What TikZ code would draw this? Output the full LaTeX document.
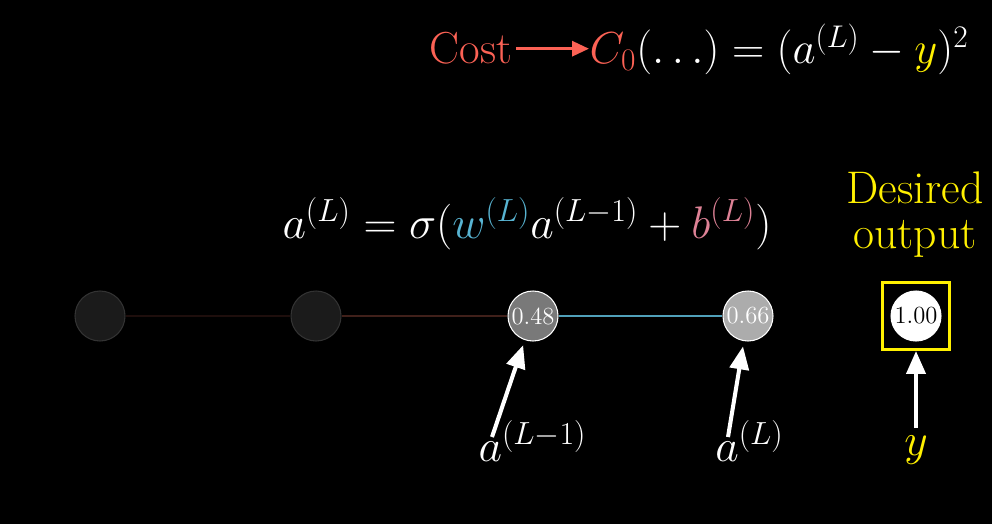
\RequirePackage{fix-cm}
\documentclass[tikz,border=0pt]{standalone}
\usepackage{amsmath}
\usepackage{xcolor}
\usetikzlibrary{arrows.meta}

\begin{document}
\begin{tikzpicture}[>=stealth, thick,
        neuron/.style={circle, draw, minimum size=1cm, inner sep=0pt, line width=0.6pt, font=\fontsize{14}{16}\selectfont},
        pointer/.style={-{Triangle[length=0.46cm, width=0.38cm]}, white, line width=2.3pt},
        big/.style={font=\fontsize{26}{25.6}\selectfont, inner sep=0pt, text=white}]
        % Colores
        \definecolor{costred}{RGB}{252, 98, 85}
        \definecolor{wblue}{RGB}{88, 180, 210}
        \definecolor{bpink}{RGB}{222, 130, 150}
        \definecolor{yel}{RGB}{255, 240, 0}
        \definecolor{dimgray}{RGB}{27, 27, 27}

        % Fondo
        \fill[black] (0,0) rectangle (19.84,-10.48);

        % Neuronas
        \node[neuron, draw=gray!40!black, fill=dimgray] (n1) at (2.00,-6.32) {};
        \node[neuron, draw=gray!40!black, fill=dimgray] (n2) at (6.32,-6.32) {};
        \node[neuron, draw=white, fill=gray!95!black, text=white] (n3) at (10.66,-6.32) {0.48};
        \node[neuron, draw=white, fill=gray!65!white, text=white] (n4) at (14.96,-6.32) {0.66};
        \node[neuron, draw=white, fill=white, text=black] (out) at (18.32,-6.32) {1.00};
        \node[draw=yel, line width=1.7pt, minimum size=1.34cm] (outbox) at (18.32,-6.32) {};

        % Conexiones
        \draw[color={rgb,255:red,30;green,14;blue,12}, line width=1.1pt] (n1) -- (n2);
        \draw[color={rgb,255:red,64;green,32;blue,26}, line width=1.1pt] (n2) -- (n3);
        \draw[color={rgb,255:red,80;green,160;blue,185}, line width=1.1pt] (n3) -- (n4);

        % Formulas
        \node[big, font=\fontsize{25.5}{28}\selectfont, text=costred, anchor=base] (cost) at (9.42,-1.28) {Cost};
        \node[big, font=\fontsize{25.5}{28}\selectfont, anchor=base west] (costfn) at (11.78,-1.28) {${\color{costred}C_0}(\ldots) = (a^{(L)} - {\color{yel}y})^2$};
        \draw[-{Triangle[length=0.34cm, width=0.3cm]}, costred, line width=1.8pt] ([xshift=2pt]cost.east) -- (cost.east -| costfn.west);

        \node[big, anchor=base] (act) at (10.54,-4.76) {$a^{(L)} = \sigma({\color{wblue}w^{(L)}} a^{(L-1)} + {\color{bpink}b^{(L)}})$};

        \node[big, text=yel, align=center] (desired) at (18.30,-4.30) {Desired\\output};

        % Etiquetas
        \node[big, anchor=base] (lbl3) at (10.65,-9.22) {$a^{(L-1)}$};
        \node[big, anchor=base] (lbl4) at (14.99,-9.22) {$a^{(L)}$};
        \node[big, text=yel, anchor=base] (ylbl) at (18.32,-9.10) {$y$};

        \coordinate (tail3) at (9.84,-8.74);
        \coordinate (tail4) at (14.56,-8.74);
        \coordinate (taily) at (18.32,-8.56);
        \draw[pointer, shorten >=3pt] (tail3) -- (n3);
        \draw[pointer, shorten >=3pt] (tail4) -- (n4);
        \draw[pointer] (taily) -- (outbox);

    \end{tikzpicture}
\end{document}
